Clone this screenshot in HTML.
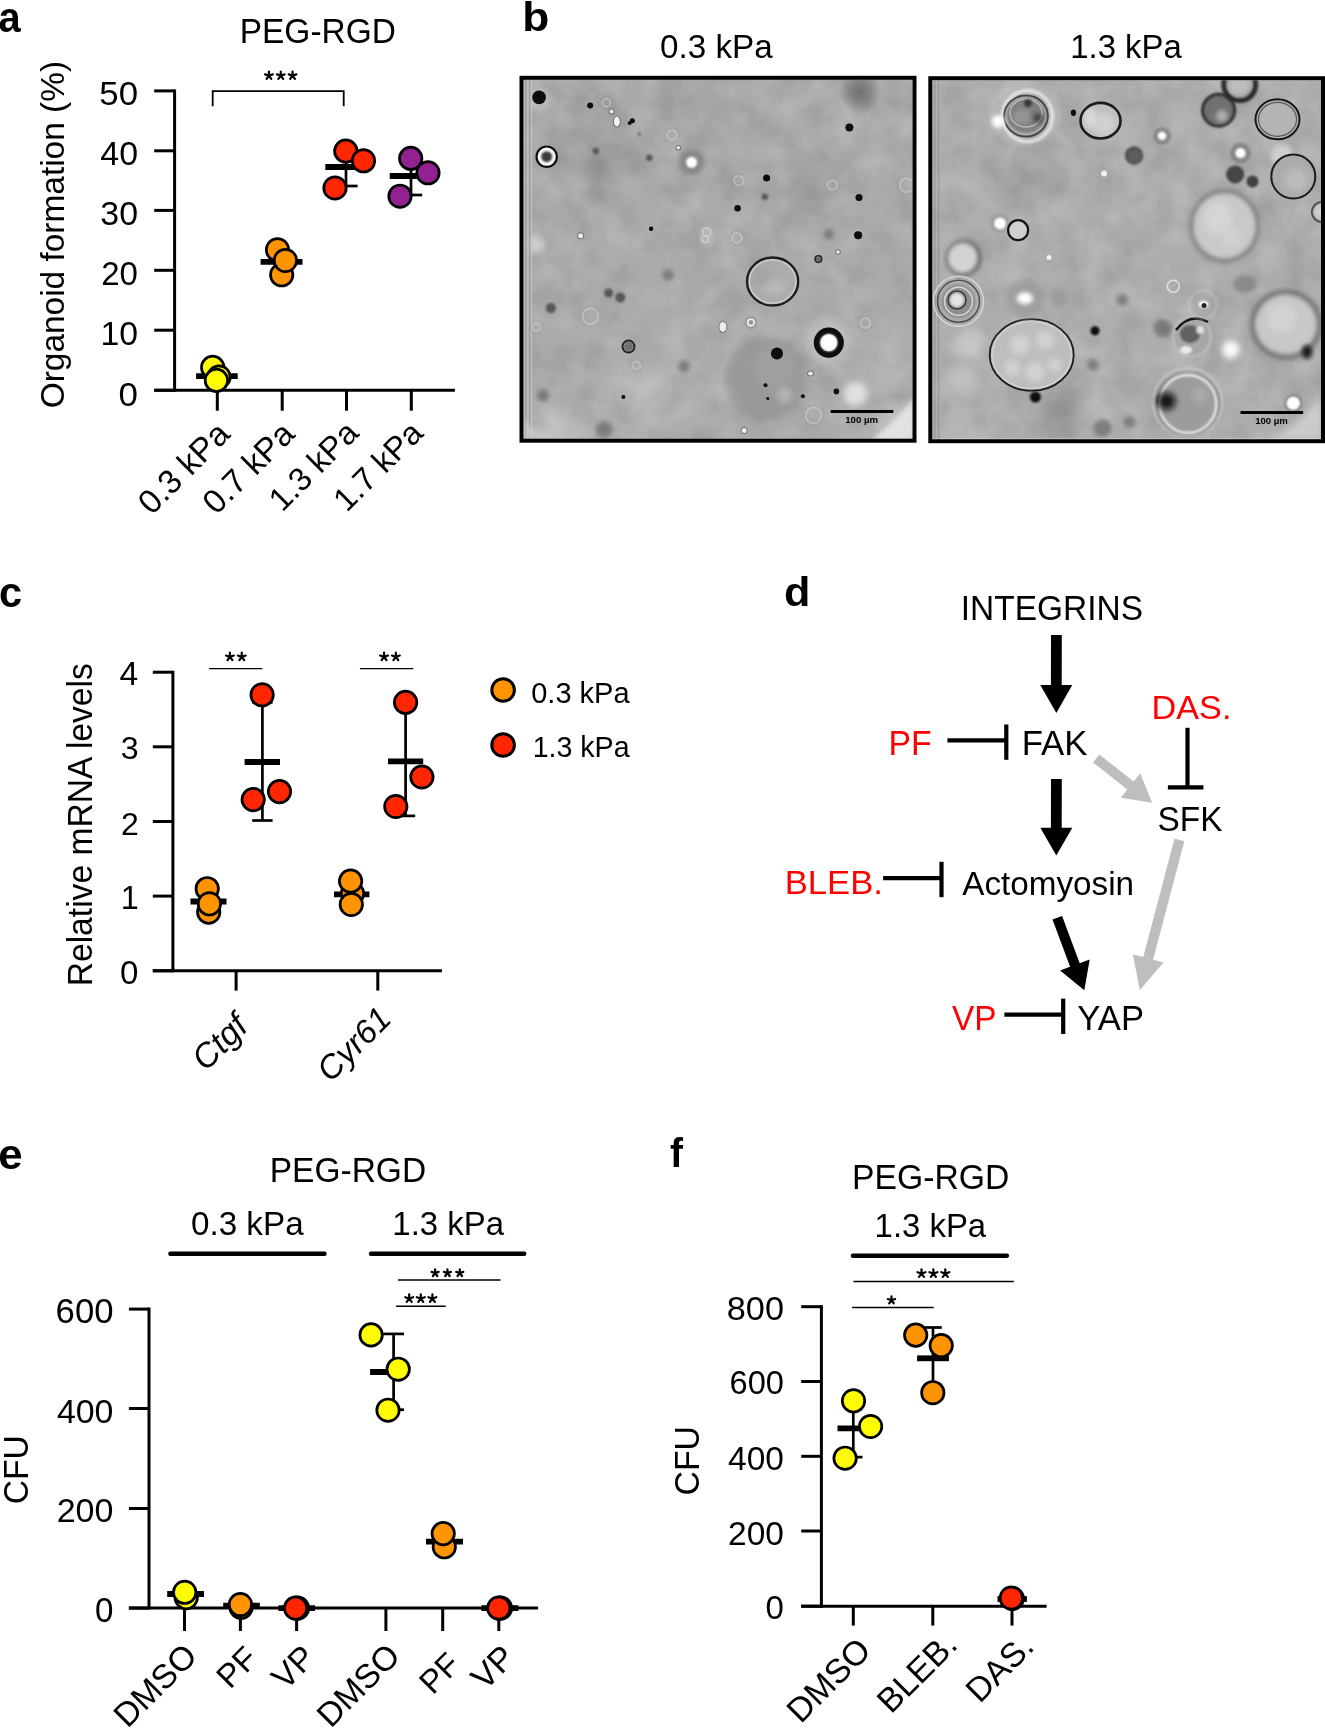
<!DOCTYPE html>
<html><head><meta charset="utf-8"><style>
html,body{margin:0;padding:0;background:#fff;overflow:hidden;}
svg{display:block;will-change:transform;}
text{font-family:"Liberation Sans", sans-serif;}
</style></head><body>
<svg width="1325" height="1728" viewBox="0 0 1325 1728">
<rect width="1325" height="1728" fill="#fff"/>
<line x1="174.60" y1="89.40" x2="174.60" y2="391.80" stroke="#000" stroke-width="3" stroke-linecap="butt"/>
<line x1="154.20" y1="90.90" x2="174.60" y2="90.90" stroke="#000" stroke-width="3" stroke-linecap="butt"/>
<line x1="154.20" y1="150.80" x2="174.60" y2="150.80" stroke="#000" stroke-width="3" stroke-linecap="butt"/>
<line x1="154.20" y1="210.40" x2="174.60" y2="210.40" stroke="#000" stroke-width="3" stroke-linecap="butt"/>
<line x1="154.20" y1="270.30" x2="174.60" y2="270.30" stroke="#000" stroke-width="3" stroke-linecap="butt"/>
<line x1="154.20" y1="330.20" x2="174.60" y2="330.20" stroke="#000" stroke-width="3" stroke-linecap="butt"/>
<line x1="154.20" y1="390.30" x2="174.60" y2="390.30" stroke="#000" stroke-width="3" stroke-linecap="butt"/>
<line x1="154.20" y1="390.30" x2="454.90" y2="390.30" stroke="#000" stroke-width="3" stroke-linecap="butt"/>
<line x1="217.30" y1="390.30" x2="217.30" y2="410.70" stroke="#000" stroke-width="3" stroke-linecap="butt"/>
<line x1="282.20" y1="390.30" x2="282.20" y2="410.70" stroke="#000" stroke-width="3" stroke-linecap="butt"/>
<line x1="346.50" y1="390.30" x2="346.50" y2="410.70" stroke="#000" stroke-width="3" stroke-linecap="butt"/>
<line x1="411.30" y1="390.30" x2="411.30" y2="410.70" stroke="#000" stroke-width="3" stroke-linecap="butt"/>
<path d="M212.7 106.3 V91.2 H343.7 V106.3" fill="none" stroke="#000" stroke-width="1.8"/>
<path d="M268.94 75.64L268.94 71.60M268.94 75.64L272.78 74.39M268.94 75.64L271.31 78.90M268.94 75.64L266.57 78.90M268.94 75.64L265.10 74.39M280.75 75.64L280.75 71.60M280.75 75.64L284.59 74.39M280.75 75.64L283.12 78.90M280.75 75.64L278.38 78.90M280.75 75.64L276.91 74.39M292.56 75.64L292.56 71.60M292.56 75.64L296.40 74.39M292.56 75.64L294.93 78.90M292.56 75.64L290.19 78.90M292.56 75.64L288.72 74.39" stroke="#000" stroke-width="2.2" stroke-linecap="round" fill="none"/>
<line x1="196.10" y1="376.20" x2="237.70" y2="376.20" stroke="#000" stroke-width="5.8" stroke-linecap="butt"/>
<circle cx="212.70" cy="367.40" r="11.2" fill="#FFFB00" stroke="#000" stroke-width="2.7"/>
<circle cx="219.00" cy="377.00" r="11.2" fill="#FFFB00" stroke="#000" stroke-width="2.7"/>
<circle cx="216.40" cy="380.40" r="11.2" fill="#FFFB00" stroke="#000" stroke-width="2.7"/>
<line x1="260.60" y1="261.90" x2="302.50" y2="261.90" stroke="#000" stroke-width="5.8" stroke-linecap="butt"/>
<circle cx="277.50" cy="249.80" r="11.2" fill="#FF9300" stroke="#000" stroke-width="2.7"/>
<circle cx="281.70" cy="274.80" r="11.2" fill="#FF9300" stroke="#000" stroke-width="2.7"/>
<circle cx="285.40" cy="260.50" r="11.2" fill="#FF9300" stroke="#000" stroke-width="2.7"/>
<line x1="346.00" y1="148.00" x2="346.00" y2="186.00" stroke="#000" stroke-width="2.7" stroke-linecap="butt"/>
<line x1="334.40" y1="148.00" x2="357.60" y2="148.00" stroke="#000" stroke-width="2.7" stroke-linecap="butt"/>
<line x1="334.40" y1="186.00" x2="357.60" y2="186.00" stroke="#000" stroke-width="2.7" stroke-linecap="butt"/>
<line x1="325.30" y1="167.00" x2="366.70" y2="167.00" stroke="#000" stroke-width="5.8" stroke-linecap="butt"/>
<circle cx="345.80" cy="151.10" r="11.2" fill="#FF2600" stroke="#000" stroke-width="2.7"/>
<circle cx="363.50" cy="160.80" r="11.2" fill="#FF2600" stroke="#000" stroke-width="2.7"/>
<circle cx="335.00" cy="188.00" r="11.2" fill="#FF2600" stroke="#000" stroke-width="2.7"/>
<line x1="411.00" y1="157.00" x2="411.00" y2="195.00" stroke="#000" stroke-width="2.7" stroke-linecap="butt"/>
<line x1="399.80" y1="157.00" x2="422.20" y2="157.00" stroke="#000" stroke-width="2.7" stroke-linecap="butt"/>
<line x1="399.80" y1="195.00" x2="422.20" y2="195.00" stroke="#000" stroke-width="2.7" stroke-linecap="butt"/>
<line x1="389.70" y1="176.00" x2="431.10" y2="176.00" stroke="#000" stroke-width="5.8" stroke-linecap="butt"/>
<circle cx="410.70" cy="158.40" r="11.2" fill="#942192" stroke="#000" stroke-width="2.7"/>
<circle cx="428.00" cy="172.80" r="11.2" fill="#942192" stroke="#000" stroke-width="2.7"/>
<circle cx="400.00" cy="196.20" r="11.2" fill="#942192" stroke="#000" stroke-width="2.7"/>
<defs>
<filter id="b05" x="-100%" y="-100%" width="300%" height="300%"><feGaussianBlur stdDeviation="0.5"/></filter>
<filter id="b1" x="-100%" y="-100%" width="300%" height="300%"><feGaussianBlur stdDeviation="1.0"/></filter>
<filter id="b2" x="-100%" y="-100%" width="300%" height="300%"><feGaussianBlur stdDeviation="2.0"/></filter>
<filter id="b3" x="-100%" y="-100%" width="300%" height="300%"><feGaussianBlur stdDeviation="3.0"/></filter>
<filter id="b5" x="-100%" y="-100%" width="300%" height="300%"><feGaussianBlur stdDeviation="5.0"/></filter>
<filter id="b8" x="-100%" y="-100%" width="300%" height="300%"><feGaussianBlur stdDeviation="8.0"/></filter>
<filter id="b12" x="-100%" y="-100%" width="300%" height="300%"><feGaussianBlur stdDeviation="12.0"/></filter>
<filter id="b20" x="-100%" y="-100%" width="300%" height="300%"><feGaussianBlur stdDeviation="20.0"/></filter>
<radialGradient id="gd"><stop offset="0" stop-color="#000" stop-opacity="1"/><stop offset="0.5" stop-color="#000" stop-opacity="0.6"/><stop offset="1" stop-color="#000" stop-opacity="0"/></radialGradient>
<radialGradient id="gl"><stop offset="0" stop-color="#fff" stop-opacity="1"/><stop offset="0.5" stop-color="#fff" stop-opacity="0.6"/><stop offset="1" stop-color="#fff" stop-opacity="0"/></radialGradient>
<filter id="nz" color-interpolation-filters="sRGB" x="0" y="0" width="100%" height="100%"><feTurbulence type="fractalNoise" baseFrequency="0.035" numOctaves="3" seed="7" result="t"/><feColorMatrix in="t" type="matrix" values="1 0 0 0 0  1 0 0 0 0  1 0 0 0 0  0 0 0 0 1"/></filter>
<filter id="nz2" color-interpolation-filters="sRGB" x="0" y="0" width="100%" height="100%"><feTurbulence type="fractalNoise" baseFrequency="0.035" numOctaves="3" seed="23" result="t"/><feColorMatrix in="t" type="matrix" values="1 0 0 0 0  1 0 0 0 0  1 0 0 0 0  0 0 0 0 1"/></filter>
<clipPath id="clip1"><rect x="523.5" y="79.8" width="389" height="359"/></clipPath>
<clipPath id="clip2"><rect x="932.3" y="80.2" width="389" height="358.5"/></clipPath>
</defs>
<g clip-path="url(#clip1)">
<rect x="520" y="76" width="396" height="366" fill="#aaaaaa"/>
<rect x="520" y="76" width="396" height="366" filter="url(#nz)" style="mix-blend-mode:overlay" opacity="0.2"/>
<ellipse cx="860.0" cy="92.0" rx="22.0" ry="22.0" fill="url(#gd)" opacity="0.35"/>
<ellipse cx="800.0" cy="190.0" rx="45.0" ry="45.0" fill="url(#gd)" opacity="0.07"/>
<ellipse cx="600.0" cy="150.0" rx="60.0" ry="60.0" fill="url(#gd)" opacity="0.07"/>
<ellipse cx="596.0" cy="170.0" rx="18.0" ry="18.0" fill="url(#gd)" opacity="0.12"/>
<ellipse cx="596.0" cy="195.0" rx="15.0" ry="15.0" fill="url(#gd)" opacity="0.1"/>
<ellipse cx="700.0" cy="120.0" rx="60.0" ry="60.0" fill="url(#gd)" opacity="0.04"/>
<ellipse cx="650.0" cy="390.0" rx="70.0" ry="70.0" fill="url(#gl)" opacity="0.12"/>
<ellipse cx="880.0" cy="360.0" rx="40.0" ry="40.0" fill="url(#gl)" opacity="0.15"/>
<ellipse cx="535.0" cy="245.0" rx="14.0" ry="14.0" fill="url(#gl)" opacity="0.45"/>
<ellipse cx="900.0" cy="425.0" rx="30.0" ry="30.0" fill="url(#gl)" opacity="0.35"/>
<ellipse cx="560.0" cy="432.0" rx="35.0" ry="35.0" fill="url(#gl)" opacity="0.25"/>
<ellipse cx="540.0" cy="100.0" rx="16.0" ry="16.0" fill="url(#gl)" opacity="0.25"/>
<rect x="523" y="80" width="9" height="359" fill="#b4b4b4" opacity="0.5"/>
<line x1="524.0" y1="80" x2="524.0" y2="439" stroke="#cfcfcf" stroke-width="1" stroke-opacity="0.55"/>
<line x1="525.9" y1="80" x2="525.9" y2="439" stroke="#8c8c8c" stroke-width="1" stroke-opacity="0.55"/>
<line x1="527.8" y1="80" x2="527.8" y2="439" stroke="#cfcfcf" stroke-width="1" stroke-opacity="0.55"/>
<line x1="529.7" y1="80" x2="529.7" y2="439" stroke="#8c8c8c" stroke-width="1" stroke-opacity="0.55"/>
<line x1="531.6" y1="80" x2="531.6" y2="439" stroke="#cfcfcf" stroke-width="1" stroke-opacity="0.55"/>
<ellipse cx="766.0" cy="378.0" rx="38.0" ry="38.0" fill="#959595" fill-opacity="0.8" filter="url(#b5)"/>
<ellipse cx="775.0" cy="365.0" rx="22.0" ry="22.0" fill="#a3a3a3" fill-opacity="0.7" filter="url(#b5)"/>
<ellipse cx="785.0" cy="395.0" rx="8.0" ry="8.0" fill="#c4c4c4" fill-opacity="0.6" filter="url(#b3)"/>
<ellipse cx="766.0" cy="378.0" rx="38.0" ry="38.0" fill="none" stroke="#8e8e8e" stroke-width="4" stroke-opacity="0.5" filter="url(#b3)"/>
<ellipse cx="772.4" cy="281.6" rx="26.5" ry="24.8" fill="#acacac" fill-opacity="1.0" filter="url(#b1)"/>
<ellipse cx="775.0" cy="287.0" rx="11.0" ry="7.0" fill="#c2c2c2" fill-opacity="0.6" filter="url(#b3)"/>
<ellipse cx="760.0" cy="275.0" rx="10.0" ry="10.0" fill="#9e9e9e" fill-opacity="0.5" filter="url(#b3)"/>
<ellipse cx="772.6" cy="281.5" rx="25.6" ry="24.0" fill="none" stroke="#1a1a1a" stroke-width="2.3" stroke-opacity="1.0" filter="url(#b05)"/>
<ellipse cx="772.6" cy="281.5" rx="23.2" ry="21.6" fill="none" stroke="#e4e4e4" stroke-width="1.3" stroke-opacity="0.6" filter="url(#b05)"/>
<ellipse cx="828.8" cy="342.6" rx="22.0" ry="22.0" fill="#c8c8c8" fill-opacity="0.6" filter="url(#b5)"/>
<ellipse cx="828.8" cy="342.6" rx="11.8" ry="11.8" fill="none" stroke="#0a0a0a" stroke-width="6.5" stroke-opacity="1.0" filter="url(#b05)"/>
<ellipse cx="828.8" cy="342.6" rx="8.6" ry="8.6" fill="#ffffff" fill-opacity="1.0" filter="url(#b1)"/>
<ellipse cx="539.1" cy="97.4" rx="6.8" ry="6.8" fill="#080808" fill-opacity="1.0" filter="url(#b05)"/>
<ellipse cx="777.0" cy="353.6" rx="6.0" ry="6.0" fill="#080808" fill-opacity="1.0" filter="url(#b05)"/>
<ellipse cx="849.4" cy="127.4" rx="4.0" ry="4.0" fill="#080808" fill-opacity="1.0" filter="url(#b05)"/>
<ellipse cx="766.6" cy="178.1" rx="3.5" ry="3.5" fill="#080808" fill-opacity="1.0" filter="url(#b05)"/>
<ellipse cx="859.0" cy="197.5" rx="3.5" ry="3.5" fill="#080808" fill-opacity="1.0" filter="url(#b05)"/>
<ellipse cx="858.1" cy="235.3" rx="4.0" ry="4.0" fill="#080808" fill-opacity="1.0" filter="url(#b05)"/>
<ellipse cx="737.6" cy="208.2" rx="3.2" ry="3.2" fill="#080808" fill-opacity="1.0" filter="url(#b05)"/>
<ellipse cx="590.2" cy="105.4" rx="3.0" ry="3.0" fill="#080808" fill-opacity="1.0" filter="url(#b05)"/>
<ellipse cx="632.4" cy="120.8" rx="2.5" ry="2.5" fill="#080808" fill-opacity="1.0" filter="url(#b05)"/>
<ellipse cx="629.7" cy="123.0" rx="2.0" ry="2.0" fill="#080808" fill-opacity="1.0" filter="url(#b05)"/>
<ellipse cx="651.1" cy="228.7" rx="2.2" ry="2.2" fill="#080808" fill-opacity="1.0" filter="url(#b05)"/>
<ellipse cx="623.4" cy="397.1" rx="2.0" ry="2.0" fill="#080808" fill-opacity="1.0" filter="url(#b05)"/>
<ellipse cx="802.9" cy="396.3" rx="2.0" ry="2.0" fill="#080808" fill-opacity="1.0" filter="url(#b05)"/>
<ellipse cx="836.4" cy="391.4" rx="2.8" ry="2.8" fill="#080808" fill-opacity="1.0" filter="url(#b05)"/>
<ellipse cx="767.8" cy="398.6" rx="1.5" ry="1.5" fill="#080808" fill-opacity="1.0" filter="url(#b05)"/>
<ellipse cx="765.5" cy="385.3" rx="2.0" ry="2.0" fill="#080808" fill-opacity="1.0" filter="url(#b05)"/>
<ellipse cx="595.7" cy="151.0" rx="3.2" ry="3.2" fill="#4a4a4a" fill-opacity="0.85" filter="url(#b1)"/>
<ellipse cx="649.3" cy="157.8" rx="3.2" ry="3.2" fill="#4a4a4a" fill-opacity="0.85" filter="url(#b1)"/>
<ellipse cx="764.8" cy="196.7" rx="3.2" ry="3.2" fill="#4a4a4a" fill-opacity="0.85" filter="url(#b1)"/>
<ellipse cx="608.6" cy="293.0" rx="4.5" ry="4.5" fill="#4a4a4a" fill-opacity="0.85" filter="url(#b1)"/>
<ellipse cx="620.3" cy="297.5" rx="5.0" ry="5.0" fill="#4a4a4a" fill-opacity="0.85" filter="url(#b1)"/>
<ellipse cx="550.9" cy="308.1" rx="5.0" ry="5.0" fill="#4a4a4a" fill-opacity="0.85" filter="url(#b1)"/>
<ellipse cx="639.5" cy="134.1" rx="1.5" ry="1.5" fill="#4a4a4a" fill-opacity="0.85" filter="url(#b1)"/>
<ellipse cx="828.8" cy="234.1" rx="5.0" ry="5.0" fill="#6a6a6a" fill-opacity="0.7" filter="url(#b2)"/>
<ellipse cx="542.9" cy="395.6" rx="6.0" ry="6.0" fill="#6a6a6a" fill-opacity="0.7" filter="url(#b2)"/>
<ellipse cx="668.2" cy="274.9" rx="6.0" ry="6.0" fill="#6a6a6a" fill-opacity="0.7" filter="url(#b2)"/>
<ellipse cx="684.0" cy="366.2" rx="6.0" ry="6.0" fill="#6a6a6a" fill-opacity="0.7" filter="url(#b2)"/>
<ellipse cx="604.0" cy="429.6" rx="8.0" ry="8.0" fill="#6a6a6a" fill-opacity="0.7" filter="url(#b2)"/>
<ellipse cx="546.7" cy="156.7" rx="11.0" ry="11.0" fill="#ffffff" fill-opacity="1.0" filter="url(#b05)"/>
<ellipse cx="546.7" cy="156.7" rx="10.2" ry="10.2" fill="none" stroke="#111" stroke-width="2.2" stroke-opacity="1.0" filter="url(#b05)"/>
<ellipse cx="546.7" cy="156.7" rx="5.5" ry="5.5" fill="#3a3a3a" fill-opacity="1.0" filter="url(#b1)"/>
<ellipse cx="691.6" cy="162.3" rx="13.0" ry="13.0" fill="#808080" fill-opacity="0.8" filter="url(#b2)"/>
<ellipse cx="691.6" cy="162.3" rx="5.5" ry="5.5" fill="#ffffff" fill-opacity="1.0" filter="url(#b1)"/>
<ellipse cx="738.9" cy="180.7" rx="5.0" ry="5.0" fill="none" stroke="#d8d8d8" stroke-width="1.6" stroke-opacity="0.55" filter="url(#b05)"/>
<ellipse cx="738.9" cy="180.7" rx="6.8" ry="6.8" fill="none" stroke="#808080" stroke-width="1.2" stroke-opacity="0.3" filter="url(#b1)"/>
<ellipse cx="832.2" cy="185.0" rx="5.0" ry="5.0" fill="none" stroke="#d8d8d8" stroke-width="1.6" stroke-opacity="0.55" filter="url(#b05)"/>
<ellipse cx="832.2" cy="185.0" rx="6.8" ry="6.8" fill="none" stroke="#808080" stroke-width="1.2" stroke-opacity="0.3" filter="url(#b1)"/>
<ellipse cx="737.0" cy="237.9" rx="5.0" ry="5.0" fill="none" stroke="#d8d8d8" stroke-width="1.6" stroke-opacity="0.55" filter="url(#b05)"/>
<ellipse cx="737.0" cy="237.9" rx="6.8" ry="6.8" fill="none" stroke="#808080" stroke-width="1.2" stroke-opacity="0.3" filter="url(#b1)"/>
<ellipse cx="865.4" cy="323.1" rx="5.0" ry="5.0" fill="none" stroke="#d8d8d8" stroke-width="1.6" stroke-opacity="0.55" filter="url(#b05)"/>
<ellipse cx="865.4" cy="323.1" rx="6.8" ry="6.8" fill="none" stroke="#808080" stroke-width="1.2" stroke-opacity="0.3" filter="url(#b1)"/>
<ellipse cx="672.0" cy="135.1" rx="5.0" ry="5.0" fill="none" stroke="#d8d8d8" stroke-width="1.6" stroke-opacity="0.55" filter="url(#b05)"/>
<ellipse cx="672.0" cy="135.1" rx="6.8" ry="6.8" fill="none" stroke="#808080" stroke-width="1.2" stroke-opacity="0.3" filter="url(#b1)"/>
<ellipse cx="606.3" cy="102.7" rx="4.0" ry="4.0" fill="none" stroke="#d8d8d8" stroke-width="1.6" stroke-opacity="0.55" filter="url(#b05)"/>
<ellipse cx="606.3" cy="102.7" rx="5.8" ry="5.8" fill="none" stroke="#808080" stroke-width="1.2" stroke-opacity="0.3" filter="url(#b1)"/>
<ellipse cx="536.5" cy="327.0" rx="4.0" ry="4.0" fill="none" stroke="#d8d8d8" stroke-width="1.6" stroke-opacity="0.55" filter="url(#b05)"/>
<ellipse cx="536.5" cy="327.0" rx="5.8" ry="5.8" fill="none" stroke="#808080" stroke-width="1.2" stroke-opacity="0.3" filter="url(#b1)"/>
<ellipse cx="636.5" cy="365.4" rx="4.0" ry="4.0" fill="none" stroke="#d8d8d8" stroke-width="1.6" stroke-opacity="0.55" filter="url(#b05)"/>
<ellipse cx="636.5" cy="365.4" rx="5.8" ry="5.8" fill="none" stroke="#808080" stroke-width="1.2" stroke-opacity="0.3" filter="url(#b1)"/>
<ellipse cx="906.6" cy="185.3" rx="7.0" ry="7.0" fill="none" stroke="#d8d8d8" stroke-width="1.6" stroke-opacity="0.55" filter="url(#b05)"/>
<ellipse cx="906.6" cy="185.3" rx="8.8" ry="8.8" fill="none" stroke="#808080" stroke-width="1.2" stroke-opacity="0.3" filter="url(#b1)"/>
<ellipse cx="813.6" cy="415.3" rx="8.0" ry="8.0" fill="none" stroke="#d8d8d8" stroke-width="1.6" stroke-opacity="0.55" filter="url(#b05)"/>
<ellipse cx="813.6" cy="415.3" rx="9.8" ry="9.8" fill="none" stroke="#808080" stroke-width="1.2" stroke-opacity="0.3" filter="url(#b1)"/>
<ellipse cx="590.5" cy="316.4" rx="8.0" ry="8.0" fill="none" stroke="#d8d8d8" stroke-width="1.6" stroke-opacity="0.55" filter="url(#b05)"/>
<ellipse cx="590.5" cy="316.4" rx="9.8" ry="9.8" fill="none" stroke="#808080" stroke-width="1.2" stroke-opacity="0.3" filter="url(#b1)"/>
<ellipse cx="706.7" cy="232.0" rx="4.0" ry="4.0" fill="none" stroke="#e0e0e0" stroke-width="1.5" stroke-opacity="0.8" filter="url(#b05)"/>
<ellipse cx="705.0" cy="239.0" rx="3.5" ry="3.5" fill="none" stroke="#e0e0e0" stroke-width="1.5" stroke-opacity="0.8" filter="url(#b05)"/>
<ellipse cx="707.0" cy="236.0" rx="7.0" ry="10.0" fill="#c4c4c4" fill-opacity="0.5" filter="url(#b2)"/>
<ellipse cx="616.9" cy="121.5" rx="4.0" ry="6.0" fill="#505050" fill-opacity="0.6" filter="url(#b05)"/>
<ellipse cx="616.9" cy="121.5" rx="3.0" ry="5.0" fill="#eeeeee" fill-opacity="1.0" filter="url(#b05)"/>
<ellipse cx="722.9" cy="326.9" rx="4.5" ry="6.0" fill="#505050" fill-opacity="0.6" filter="url(#b05)"/>
<ellipse cx="722.9" cy="326.9" rx="3.5" ry="5.0" fill="#eeeeee" fill-opacity="1.0" filter="url(#b05)"/>
<ellipse cx="810.5" cy="373.4" rx="3.5" ry="3.0" fill="#505050" fill-opacity="0.6" filter="url(#b05)"/>
<ellipse cx="810.5" cy="373.4" rx="2.5" ry="2.0" fill="#eeeeee" fill-opacity="1.0" filter="url(#b05)"/>
<ellipse cx="611.6" cy="111.4" rx="3.0" ry="3.0" fill="#505050" fill-opacity="0.6" filter="url(#b05)"/>
<ellipse cx="611.6" cy="111.4" rx="2.0" ry="2.0" fill="#eeeeee" fill-opacity="1.0" filter="url(#b05)"/>
<ellipse cx="678.3" cy="147.7" rx="2.8" ry="2.8" fill="#505050" fill-opacity="0.6" filter="url(#b05)"/>
<ellipse cx="678.3" cy="147.7" rx="1.8" ry="1.8" fill="#eeeeee" fill-opacity="1.0" filter="url(#b05)"/>
<ellipse cx="744.2" cy="430.6" rx="3.5" ry="3.5" fill="#505050" fill-opacity="0.6" filter="url(#b05)"/>
<ellipse cx="744.2" cy="430.6" rx="2.5" ry="2.5" fill="#eeeeee" fill-opacity="1.0" filter="url(#b05)"/>
<ellipse cx="838.0" cy="252.0" rx="2.8" ry="2.8" fill="#505050" fill-opacity="0.6" filter="url(#b05)"/>
<ellipse cx="838.0" cy="252.0" rx="1.8" ry="1.8" fill="#eeeeee" fill-opacity="1.0" filter="url(#b05)"/>
<ellipse cx="580.6" cy="235.8" rx="3.5" ry="3.5" fill="#505050" fill-opacity="0.6" filter="url(#b05)"/>
<ellipse cx="580.6" cy="235.8" rx="2.5" ry="2.5" fill="#eeeeee" fill-opacity="1.0" filter="url(#b05)"/>
<ellipse cx="818.4" cy="259.1" rx="3.3" ry="3.3" fill="none" stroke="#222" stroke-width="1.6" stroke-opacity="1" filter="url(#b05)"/>
<ellipse cx="818.4" cy="259.1" rx="2.6" ry="2.6" fill="#6a6a6a" fill-opacity="1" filter="url(#b05)"/>
<ellipse cx="750.9" cy="322.5" rx="6.2" ry="6.2" fill="#8a8a8a" fill-opacity="0.7" filter="url(#b1)"/>
<ellipse cx="750.9" cy="322.5" rx="3.2" ry="3.2" fill="none" stroke="#f4f4f4" stroke-width="1.6" stroke-opacity="1" filter="url(#b05)"/>
<ellipse cx="628.5" cy="346.6" rx="6.0" ry="6.0" fill="none" stroke="#202020" stroke-width="2" stroke-opacity="1.0" filter="url(#b05)"/>
<ellipse cx="628.5" cy="346.6" rx="4.5" ry="4.5" fill="#707070" fill-opacity="1" filter="url(#b05)"/>
<ellipse cx="855.5" cy="394.0" rx="12.0" ry="12.0" fill="#e6e6e6" fill-opacity="0.9" filter="url(#b3)"/>
<path d="M914 398 Q 898 418 872 440 L914 440 Z" fill="#e4e4e4" opacity="0.95" filter="url(#b2)"/>
<path d="M524 420 Q 540 435 560 440 L524 440 Z" fill="#d0d0d0" opacity="0.7" filter="url(#b3)"/>
<rect x="830.7" y="410" width="62.6" height="3" fill="#000"/>
<text x="861.6" y="423.2" font-size="9.6" font-weight="bold" text-anchor="middle" fill="#000">100 µm</text>
</g>
<rect x="521.5" y="77.8" width="393" height="362.9" fill="none" stroke="#000" stroke-width="4"/>
<g clip-path="url(#clip2)">
<rect x="928" y="76" width="397" height="367" fill="#adadad"/>
<rect x="928" y="76" width="397" height="367" filter="url(#nz2)" style="mix-blend-mode:overlay" opacity="0.2"/>
<ellipse cx="1054.3" cy="413.0" rx="35.0" ry="35.0" fill="url(#gd)" opacity="0.15"/>
<ellipse cx="1024.0" cy="169.0" rx="55.0" ry="55.0" fill="url(#gd)" opacity="0.08"/>
<ellipse cx="1024.0" cy="169.0" rx="50.0" ry="50.0" fill="none" stroke="#c0c0c0" stroke-width="3" stroke-opacity="0.5" filter="url(#b3)"/>
<ellipse cx="1031.7" cy="160.0" rx="18.0" ry="18.0" fill="none" stroke="#999" stroke-width="2" stroke-opacity="0.5" filter="url(#b2)"/>
<ellipse cx="969.8" cy="342.0" rx="15.0" ry="15.0" fill="#d0d0d0" fill-opacity="0.7" filter="url(#b5)"/>
<ellipse cx="963.7" cy="379.8" rx="15.0" ry="15.0" fill="#c8c8c8" fill-opacity="0.6" filter="url(#b5)"/>
<ellipse cx="960.0" cy="420.0" rx="15.0" ry="15.0" fill="#c4c4c4" fill-opacity="0.5" filter="url(#b5)"/>
<rect x="932" y="80" width="9" height="359" fill="#959595" opacity="0.35"/>
<line x1="933.0" y1="80" x2="933.0" y2="439" stroke="#cccccc" stroke-width="1" stroke-opacity="0.45"/>
<line x1="934.9" y1="80" x2="934.9" y2="439" stroke="#939393" stroke-width="1" stroke-opacity="0.45"/>
<line x1="936.8" y1="80" x2="936.8" y2="439" stroke="#cccccc" stroke-width="1" stroke-opacity="0.45"/>
<line x1="938.7" y1="80" x2="938.7" y2="439" stroke="#939393" stroke-width="1" stroke-opacity="0.45"/>
<line x1="940.6" y1="80" x2="940.6" y2="439" stroke="#cccccc" stroke-width="1" stroke-opacity="0.45"/>
<ellipse cx="1025.0" cy="113.3" rx="36.0" ry="31.7" fill="#bdbdbd" fill-opacity="0.45" filter="url(#b3)"/>
<ellipse cx="1025.0" cy="113.3" rx="33.0" ry="29.5" fill="none" stroke="#c8c8c8" stroke-width="2" stroke-opacity="0.5" filter="url(#b2)"/>
<ellipse cx="1027.5" cy="116.2" rx="25.0" ry="25.5" fill="none" stroke="#ececec" stroke-width="3.2" stroke-opacity="0.85" filter="url(#b1)"/>
<ellipse cx="1026.0" cy="116.0" rx="21.8" ry="20.5" fill="none" stroke="#2a2a2a" stroke-width="2.0" stroke-opacity="0.8" filter="url(#b05)"/>
<ellipse cx="1026.0" cy="115.5" rx="19.5" ry="17.5" fill="#808080" fill-opacity="1.0" filter="url(#b1)"/>
<ellipse cx="1026.0" cy="113.0" rx="16.0" ry="14.0" fill="none" stroke="#d8d8d8" stroke-width="1.5" stroke-opacity="0.6" filter="url(#b05)"/>
<ellipse cx="1022.0" cy="117.0" rx="9.0" ry="7.0" fill="#9a9a9a" fill-opacity="0.8" filter="url(#b2)"/>
<ellipse cx="1038.0" cy="118.0" rx="5.0" ry="5.0" fill="#2e2e2e" fill-opacity="0.7" filter="url(#b2)"/>
<ellipse cx="1028.0" cy="103.0" rx="4.0" ry="4.0" fill="#1e1e1e" fill-opacity="0.7" filter="url(#b1)"/>
<ellipse cx="998.1" cy="121.3" rx="6.5" ry="6.5" fill="#ffffff" fill-opacity="1.0" filter="url(#b2)"/>
<ellipse cx="1100.5" cy="120.7" rx="21.0" ry="18.7" fill="#c0c0c0" fill-opacity="1.0" filter="url(#b05)"/>
<ellipse cx="1104.0" cy="124.0" rx="11.0" ry="11.0" fill="#d4d4d4" fill-opacity="0.8" filter="url(#b3)"/>
<ellipse cx="1090.0" cy="118.0" rx="6.0" ry="10.0" fill="#e6e6e6" fill-opacity="0.6" filter="url(#b2)"/>
<ellipse cx="1100.5" cy="120.7" rx="20.0" ry="17.8" fill="none" stroke="#1a1a1a" stroke-width="2.6" stroke-opacity="1.0" filter="url(#b05)"/>
<ellipse cx="1073.4" cy="112.8" rx="2.6" ry="3.2" fill="#111" fill-opacity="1" filter="url(#b05)"/>
<ellipse cx="1000.0" cy="223.4" rx="9.0" ry="9.0" fill="#8a8a8a" fill-opacity="0.7" filter="url(#b2)"/>
<ellipse cx="1000.0" cy="223.4" rx="6.0" ry="6.0" fill="#ffffff" fill-opacity="1" filter="url(#b1)"/>
<ellipse cx="1018.1" cy="230.2" rx="10.0" ry="10.0" fill="#d0d0d0" fill-opacity="1" filter="url(#b05)"/>
<ellipse cx="1018.1" cy="230.2" rx="10.0" ry="10.0" fill="none" stroke="#141414" stroke-width="2.2" stroke-opacity="1" filter="url(#b05)"/>
<ellipse cx="960.5" cy="257.0" rx="17.0" ry="17.0" fill="#d6d6d6" fill-opacity="0.9" filter="url(#b2)"/>
<ellipse cx="963.0" cy="258.0" rx="17.0" ry="17.0" fill="none" stroke="#303030" stroke-width="3" stroke-opacity="0.7" filter="url(#b2)"/>
<ellipse cx="1239.7" cy="84.6" rx="16.0" ry="16.0" fill="none" stroke="#1e1e1e" stroke-width="5" stroke-opacity="0.9" filter="url(#b1)"/>
<ellipse cx="1239.7" cy="84.6" rx="10.0" ry="10.0" fill="#c8c8c8" fill-opacity="0.7" filter="url(#b2)"/>
<ellipse cx="1218.6" cy="110.2" rx="16.0" ry="16.0" fill="#6a6a6a" fill-opacity="0.9" filter="url(#b1)"/>
<ellipse cx="1218.6" cy="110.2" rx="16.0" ry="16.0" fill="none" stroke="#222" stroke-width="3" stroke-opacity="0.9" filter="url(#b1)"/>
<ellipse cx="1222.0" cy="116.0" rx="6.0" ry="6.0" fill="#bcbcbc" fill-opacity="0.8" filter="url(#b2)"/>
<ellipse cx="1277.5" cy="119.3" rx="22.0" ry="20.0" fill="#b4b4b4" fill-opacity="1" filter="url(#b05)"/>
<ellipse cx="1277.5" cy="119.3" rx="22.0" ry="20.0" fill="none" stroke="#151515" stroke-width="2" stroke-opacity="1" filter="url(#b05)"/>
<ellipse cx="1277.5" cy="119.3" rx="19.0" ry="17.0" fill="none" stroke="#303030" stroke-width="1.2" stroke-opacity="0.7" filter="url(#b05)"/>
<ellipse cx="1162.0" cy="135.9" rx="9.0" ry="9.0" fill="#7a7a7a" fill-opacity="0.7" filter="url(#b1)"/>
<ellipse cx="1162.0" cy="135.9" rx="4.2" ry="4.2" fill="#ffffff" fill-opacity="1" filter="url(#b1)"/>
<ellipse cx="1240.5" cy="153.2" rx="10.5" ry="10.5" fill="#7a7a7a" fill-opacity="0.7" filter="url(#b1)"/>
<ellipse cx="1240.5" cy="153.2" rx="5.1" ry="5.1" fill="#ffffff" fill-opacity="1" filter="url(#b1)"/>
<ellipse cx="1134.0" cy="155.5" rx="9.0" ry="9.0" fill="#3a3a3a" fill-opacity="0.9" filter="url(#b1)"/>
<ellipse cx="1235.2" cy="174.4" rx="9.0" ry="9.0" fill="#3a3a3a" fill-opacity="0.9" filter="url(#b1)"/>
<ellipse cx="1252.5" cy="181.5" rx="6.0" ry="6.0" fill="#333" fill-opacity="0.9" filter="url(#b1)"/>
<ellipse cx="1282.0" cy="155.5" rx="11.0" ry="11.0" fill="#d2d2d2" fill-opacity="0.9" filter="url(#b2)"/>
<ellipse cx="1293.3" cy="176.6" rx="22.0" ry="22.0" fill="#ababab" fill-opacity="1" filter="url(#b05)"/>
<ellipse cx="1296.0" cy="180.0" rx="12.0" ry="12.0" fill="#c0c0c0" fill-opacity="0.7" filter="url(#b3)"/>
<ellipse cx="1293.3" cy="176.6" rx="22.0" ry="22.0" fill="none" stroke="#1a1a1a" stroke-width="2" stroke-opacity="1" filter="url(#b05)"/>
<ellipse cx="1322.0" cy="212.0" rx="10.0" ry="10.0" fill="none" stroke="#222" stroke-width="2" stroke-opacity="0.8" filter="url(#b05)"/>
<ellipse cx="1322.0" cy="212.0" rx="8.0" ry="8.0" fill="#d8d8d8" fill-opacity="0.8" filter="url(#b2)"/>
<ellipse cx="1224.5" cy="225.9" rx="46.0" ry="47.0" fill="url(#gd)" opacity="0.12"/>
<ellipse cx="1224.5" cy="225.9" rx="33.0" ry="34.5" fill="none" stroke="#7e7e7e" stroke-width="5" stroke-opacity="0.8" filter="url(#b2)"/>
<ellipse cx="1224.5" cy="225.9" rx="30.5" ry="32.0" fill="#c9c9c9" fill-opacity="1" filter="url(#b2)"/>
<ellipse cx="1218.0" cy="218.0" rx="14.0" ry="16.0" fill="#d8d8d8" fill-opacity="0.8" filter="url(#b3)"/>
<ellipse cx="1232.0" cy="238.0" rx="10.0" ry="10.0" fill="#d4d4d4" fill-opacity="0.7" filter="url(#b3)"/>
<ellipse cx="1031.7" cy="354.9" rx="42.0" ry="35.8" fill="#bdbdbd" fill-opacity="1" filter="url(#b05)"/>
<ellipse cx="1020.0" cy="345.0" rx="10.0" ry="10.0" fill="#d8d8d8" fill-opacity="0.8" filter="url(#b3)"/>
<ellipse cx="1045.0" cy="340.0" rx="9.0" ry="9.0" fill="#d8d8d8" fill-opacity="0.8" filter="url(#b3)"/>
<ellipse cx="1035.0" cy="372.0" rx="10.0" ry="10.0" fill="#d8d8d8" fill-opacity="0.8" filter="url(#b3)"/>
<ellipse cx="1055.0" cy="365.0" rx="7.0" ry="7.0" fill="#d8d8d8" fill-opacity="0.8" filter="url(#b3)"/>
<ellipse cx="1012.0" cy="368.0" rx="8.0" ry="8.0" fill="#d8d8d8" fill-opacity="0.8" filter="url(#b3)"/>
<ellipse cx="1031.7" cy="354.9" rx="42.0" ry="35.8" fill="none" stroke="#1c1c1c" stroke-width="1.8" stroke-opacity="1" filter="url(#b05)"/>
<ellipse cx="1031.7" cy="354.9" rx="39.5" ry="33.5" fill="none" stroke="#dedede" stroke-width="1.5" stroke-opacity="0.6" filter="url(#b05)"/>
<ellipse cx="958.5" cy="301.3" rx="25.0" ry="25.0" fill="none" stroke="#e0e0e0" stroke-width="1.5" stroke-opacity="0.8" filter="url(#b05)"/>
<ellipse cx="958.5" cy="301.3" rx="21.0" ry="21.0" fill="none" stroke="#3a3a3a" stroke-width="1.5" stroke-opacity="0.8" filter="url(#b05)"/>
<ellipse cx="958.5" cy="301.3" rx="17.0" ry="17.0" fill="#8c8c8c" fill-opacity="0.9" filter="url(#b1)"/>
<ellipse cx="958.5" cy="301.3" rx="14.0" ry="14.0" fill="none" stroke="#e8e8e8" stroke-width="1.5" stroke-opacity="0.8" filter="url(#b05)"/>
<ellipse cx="957.0" cy="300.0" rx="9.0" ry="9.0" fill="none" stroke="#2a2a2a" stroke-width="1.5" stroke-opacity="0.9" filter="url(#b05)"/>
<ellipse cx="957.0" cy="300.0" rx="7.0" ry="7.0" fill="#e4e4e4" fill-opacity="1" filter="url(#b1)"/>
<ellipse cx="1024.9" cy="298.3" rx="19.6" ry="19.6" fill="#9a9a9a" fill-opacity="0.8" filter="url(#b3)"/>
<ellipse cx="1024.9" cy="298.3" rx="8.0" ry="6.0" fill="#ffffff" fill-opacity="1" filter="url(#b2)"/>
<ellipse cx="1058.8" cy="298.3" rx="10.0" ry="10.0" fill="#8e8e8e" fill-opacity="0.6" filter="url(#b3)"/>
<ellipse cx="1095.0" cy="330.7" rx="4.5" ry="4.5" fill="#0c0c0c" fill-opacity="1" filter="url(#b1)"/>
<ellipse cx="1035.4" cy="397.1" rx="5.5" ry="5.5" fill="#0c0c0c" fill-opacity="1" filter="url(#b1)"/>
<ellipse cx="1165.8" cy="400.9" rx="9.0" ry="9.0" fill="#0c0c0c" fill-opacity="1" filter="url(#b1)"/>
<ellipse cx="1092.8" cy="364.7" rx="6.0" ry="6.0" fill="#6a6a6a" fill-opacity="0.7" filter="url(#b2)"/>
<ellipse cx="1102.6" cy="428.1" rx="9.0" ry="9.0" fill="#6a6a6a" fill-opacity="0.7" filter="url(#b2)"/>
<ellipse cx="1122.2" cy="299.8" rx="6.0" ry="6.0" fill="#6a6a6a" fill-opacity="0.7" filter="url(#b2)"/>
<ellipse cx="1162.7" cy="328.5" rx="9.0" ry="9.0" fill="#6a6a6a" fill-opacity="0.7" filter="url(#b2)"/>
<ellipse cx="1129.5" cy="422.0" rx="6.0" ry="6.0" fill="#6a6a6a" fill-opacity="0.7" filter="url(#b2)"/>
<ellipse cx="1134.7" cy="155.9" rx="8.0" ry="8.0" fill="#6a6a6a" fill-opacity="0.7" filter="url(#b2)"/>
<ellipse cx="1286.0" cy="324.5" rx="48.0" ry="48.0" fill="url(#gd)" opacity="0.12"/>
<ellipse cx="1286.0" cy="324.5" rx="33.5" ry="32.5" fill="none" stroke="#747474" stroke-width="6" stroke-opacity="0.85" filter="url(#b2)"/>
<ellipse cx="1286.0" cy="324.5" rx="30.0" ry="29.0" fill="#c8c8c8" fill-opacity="1" filter="url(#b2)"/>
<ellipse cx="1282.0" cy="318.0" rx="14.0" ry="14.0" fill="#d6d6d6" fill-opacity="0.8" filter="url(#b3)"/>
<ellipse cx="1307.0" cy="352.0" rx="5.0" ry="7.0" fill="#0a0a0a" fill-opacity="0.9" filter="url(#b2)"/>
<ellipse cx="1187.6" cy="402.0" rx="34.6" ry="34.0" fill="none" stroke="#d6d6d6" stroke-width="2" stroke-opacity="0.6" filter="url(#b1)"/>
<ellipse cx="1188.0" cy="404.0" rx="28.5" ry="29.0" fill="#9c9c9c" fill-opacity="1" filter="url(#b1)"/>
<ellipse cx="1188.0" cy="404.0" rx="28.5" ry="29.0" fill="none" stroke="#eeeeee" stroke-width="3" stroke-opacity="0.85" filter="url(#b1)"/>
<ellipse cx="1188.0" cy="404.0" rx="31.0" ry="31.5" fill="none" stroke="#3a3a3a" stroke-width="1.2" stroke-opacity="0.5" filter="url(#b1)"/>
<ellipse cx="1166.6" cy="401.2" rx="9.0" ry="9.0" fill="#0a0a0a" fill-opacity="0.95" filter="url(#b3)"/>
<ellipse cx="1200.0" cy="395.0" rx="8.0" ry="8.0" fill="#b4b4b4" fill-opacity="0.6" filter="url(#b3)"/>
<ellipse cx="1192.1" cy="336.5" rx="19.0" ry="20.0" fill="#a8a8a8" fill-opacity="1" filter="url(#b1)"/>
<ellipse cx="1192.1" cy="336.5" rx="19.0" ry="20.0" fill="none" stroke="#cfcfcf" stroke-width="2" stroke-opacity="0.6" filter="url(#b1)"/>
<ellipse cx="1190.0" cy="334.0" rx="10.0" ry="9.0" fill="#505050" fill-opacity="0.8" filter="url(#b1)"/>
<ellipse cx="1186.0" cy="350.0" rx="6.0" ry="4.0" fill="#f2f2f2" fill-opacity="0.9" filter="url(#b1)"/>
<ellipse cx="1200.0" cy="330.0" rx="4.0" ry="4.0" fill="#eeeeee" fill-opacity="0.8" filter="url(#b1)"/>
<path d="M1176 330 Q 1190 312 1208 322" fill="none" stroke="#151515" stroke-width="2.5" filter="url(#b05)"/>
<ellipse cx="1202.7" cy="304.9" rx="14.0" ry="14.0" fill="none" stroke="#d0d0d0" stroke-width="1.5" stroke-opacity="0.6" filter="url(#b1)"/>
<ellipse cx="1203.5" cy="304.5" rx="5.0" ry="3.5" fill="#ffffff" fill-opacity="1" filter="url(#b1)"/>
<ellipse cx="1204.0" cy="305.5" rx="2.5" ry="2.5" fill="#222" fill-opacity="1" filter="url(#b05)"/>
<ellipse cx="1244.8" cy="283.8" rx="12.0" ry="9.0" fill="#7c7c7c" fill-opacity="0.7" filter="url(#b2)"/>
<ellipse cx="1230.7" cy="349.6" rx="9.0" ry="9.0" fill="#ffffff" fill-opacity="0.95" filter="url(#b3)"/>
<ellipse cx="1293.3" cy="403.2" rx="7.0" ry="7.0" fill="#ffffff" fill-opacity="1" filter="url(#b1)"/>
<ellipse cx="1293.3" cy="403.2" rx="8.0" ry="8.0" fill="none" stroke="#555" stroke-width="1.5" stroke-opacity="0.7" filter="url(#b1)"/>
<ellipse cx="1173.3" cy="286.2" rx="6.0" ry="6.0" fill="none" stroke="#eee" stroke-width="1.5" stroke-opacity="0.8" filter="url(#b05)"/>
<ellipse cx="1049.0" cy="257.4" rx="2.5" ry="2.5" fill="#f0f0f0" fill-opacity="1" filter="url(#b05)"/>
<ellipse cx="1104.1" cy="173.6" rx="3.0" ry="3.0" fill="#f0f0f0" fill-opacity="1" filter="url(#b05)"/>
<path d="M1321 395 L1321 439 L1270 439 Q 1300 425 1321 395 Z" fill="#d8d8d8" opacity="0.7" filter="url(#b3)"/>
<rect x="1240.5" y="411" width="62.6" height="3" fill="#000"/>
<text x="1271.5" y="423.8" font-size="9.6" font-weight="bold" text-anchor="middle" fill="#000">100 µm</text>
</g>
<rect x="930.3" y="78.2" width="392.7" height="363" fill="none" stroke="#000" stroke-width="4"/>
<line x1="172.90" y1="670.70" x2="172.90" y2="972.30" stroke="#000" stroke-width="3" stroke-linecap="butt"/>
<line x1="152.80" y1="672.20" x2="172.90" y2="672.20" stroke="#000" stroke-width="3" stroke-linecap="butt"/>
<line x1="152.80" y1="746.80" x2="172.90" y2="746.80" stroke="#000" stroke-width="3" stroke-linecap="butt"/>
<line x1="152.80" y1="821.50" x2="172.90" y2="821.50" stroke="#000" stroke-width="3" stroke-linecap="butt"/>
<line x1="152.80" y1="896.10" x2="172.90" y2="896.10" stroke="#000" stroke-width="3" stroke-linecap="butt"/>
<line x1="152.80" y1="970.80" x2="172.90" y2="970.80" stroke="#000" stroke-width="3" stroke-linecap="butt"/>
<line x1="152.80" y1="970.80" x2="442.00" y2="970.80" stroke="#000" stroke-width="3" stroke-linecap="butt"/>
<line x1="236.10" y1="970.80" x2="236.10" y2="990.60" stroke="#000" stroke-width="3" stroke-linecap="butt"/>
<line x1="377.80" y1="970.80" x2="377.80" y2="990.60" stroke="#000" stroke-width="3" stroke-linecap="butt"/>
<line x1="209.10" y1="668.60" x2="262.30" y2="668.60" stroke="#000" stroke-width="1.4" stroke-linecap="butt"/>
<path d="M229.94 656.85L229.94 652.70M229.94 656.85L233.89 655.56M229.94 656.85L232.38 660.20M229.94 656.85L227.51 660.20M229.94 656.85L226.00 655.56M241.76 656.85L241.76 652.70M241.76 656.85L245.70 655.56M241.76 656.85L244.19 660.20M241.76 656.85L239.32 660.20M241.76 656.85L237.81 655.56" stroke="#000" stroke-width="2.2" stroke-linecap="round" fill="none"/>
<line x1="359.90" y1="668.60" x2="413.30" y2="668.60" stroke="#000" stroke-width="1.4" stroke-linecap="butt"/>
<path d="M384.04 656.85L384.04 652.70M384.04 656.85L387.99 655.56M384.04 656.85L386.48 660.20M384.04 656.85L381.61 660.20M384.04 656.85L380.10 655.56M395.86 656.85L395.86 652.70M395.86 656.85L399.80 655.56M395.86 656.85L398.29 660.20M395.86 656.85L393.42 660.20M395.86 656.85L391.91 655.56" stroke="#000" stroke-width="2.2" stroke-linecap="round" fill="none"/>
<line x1="190.50" y1="901.50" x2="226.50" y2="901.50" stroke="#000" stroke-width="5.8" stroke-linecap="butt"/>
<circle cx="207.20" cy="888.70" r="11.2" fill="#FF9300" stroke="#000" stroke-width="2.7"/>
<circle cx="208.70" cy="912.10" r="11.2" fill="#FF9300" stroke="#000" stroke-width="2.7"/>
<circle cx="209.40" cy="903.80" r="11.2" fill="#FF9300" stroke="#000" stroke-width="2.7"/>
<line x1="262.40" y1="702.40" x2="262.40" y2="820.50" stroke="#000" stroke-width="2.7" stroke-linecap="butt"/>
<line x1="252.20" y1="702.40" x2="272.60" y2="702.40" stroke="#000" stroke-width="2.7" stroke-linecap="butt"/>
<line x1="252.20" y1="820.50" x2="272.60" y2="820.50" stroke="#000" stroke-width="2.7" stroke-linecap="butt"/>
<line x1="244.60" y1="762.00" x2="280.00" y2="762.00" stroke="#000" stroke-width="5.8" stroke-linecap="butt"/>
<circle cx="262.10" cy="694.80" r="11.2" fill="#FF2600" stroke="#000" stroke-width="2.7"/>
<circle cx="253.20" cy="799.60" r="11.2" fill="#FF2600" stroke="#000" stroke-width="2.7"/>
<circle cx="279.50" cy="791.60" r="11.2" fill="#FF2600" stroke="#000" stroke-width="2.7"/>
<line x1="334.00" y1="894.40" x2="369.40" y2="894.40" stroke="#000" stroke-width="5.8" stroke-linecap="butt"/>
<circle cx="352.50" cy="893.50" r="11.2" fill="#FF9300" stroke="#000" stroke-width="2.7"/>
<circle cx="351.30" cy="904.50" r="11.2" fill="#FF9300" stroke="#000" stroke-width="2.7"/>
<circle cx="350.60" cy="881.10" r="11.2" fill="#FF9300" stroke="#000" stroke-width="2.7"/>
<line x1="405.60" y1="709.30" x2="405.60" y2="815.90" stroke="#000" stroke-width="2.7" stroke-linecap="butt"/>
<line x1="396.00" y1="709.30" x2="415.20" y2="709.30" stroke="#000" stroke-width="2.7" stroke-linecap="butt"/>
<line x1="396.00" y1="815.90" x2="415.20" y2="815.90" stroke="#000" stroke-width="2.7" stroke-linecap="butt"/>
<line x1="388.00" y1="761.40" x2="423.20" y2="761.40" stroke="#000" stroke-width="5.8" stroke-linecap="butt"/>
<circle cx="405.60" cy="702.40" r="11.2" fill="#FF2600" stroke="#000" stroke-width="2.7"/>
<circle cx="421.90" cy="777.00" r="11.2" fill="#FF2600" stroke="#000" stroke-width="2.7"/>
<circle cx="395.80" cy="806.50" r="11.2" fill="#FF2600" stroke="#000" stroke-width="2.7"/>
<circle cx="503.10" cy="690.00" r="11.3" fill="#FF9300" stroke="#000" stroke-width="3"/>
<circle cx="503.10" cy="745.00" r="11.3" fill="#FF2600" stroke="#000" stroke-width="3"/>
<polygon points="1051.0,635.0 1050.9,685.1 1040.3,685.1 1056.3,712.9 1072.3,685.1 1061.7,685.1 1061.8,635.0" fill="#000"/>
<polygon points="1051.0,779.0 1050.9,827.8 1040.3,827.8 1056.3,855.6 1072.3,827.8 1061.7,827.8 1061.8,779.0" fill="#000"/>
<polygon points="1052.5,919.5 1070.1,966.8 1060.1,970.5 1084.3,990.3 1089.7,959.5 1079.7,963.2 1062.1,915.9" fill="#000"/>
<polygon points="1093.1,762.4 1127.3,789.5 1120.7,797.8 1152.2,802.7 1140.2,773.2 1133.6,781.6 1099.3,754.4" fill="#BEBEBE"/>
<polygon points="1174.5,838.6 1143.3,957.1 1132.9,954.4 1139.8,990.3 1163.5,962.4 1153.1,959.7 1184.3,841.2" fill="#BEBEBE"/>
<line x1="947.40" y1="740.30" x2="1007.70" y2="740.30" stroke="#000" stroke-width="4.2" stroke-linecap="butt"/>
<line x1="1006.30" y1="724.50" x2="1006.30" y2="759.80" stroke="#000" stroke-width="4.2" stroke-linecap="butt"/>
<line x1="1187.50" y1="727.80" x2="1187.50" y2="787.30" stroke="#000" stroke-width="4.2" stroke-linecap="butt"/>
<line x1="1167.90" y1="787.30" x2="1203.40" y2="787.30" stroke="#000" stroke-width="4.2" stroke-linecap="butt"/>
<line x1="883.10" y1="878.10" x2="942.50" y2="878.10" stroke="#000" stroke-width="4.2" stroke-linecap="butt"/>
<line x1="941.50" y1="861.80" x2="941.50" y2="897.20" stroke="#000" stroke-width="4.2" stroke-linecap="butt"/>
<line x1="1004.40" y1="1014.60" x2="1063.70" y2="1014.60" stroke="#000" stroke-width="4.2" stroke-linecap="butt"/>
<line x1="1063.20" y1="998.60" x2="1063.20" y2="1034.00" stroke="#000" stroke-width="4.2" stroke-linecap="butt"/>
<line x1="170.40" y1="1253.80" x2="324.50" y2="1253.80" stroke="#000" stroke-width="4.4" stroke-linecap="round"/>
<line x1="371.00" y1="1253.80" x2="524.20" y2="1253.80" stroke="#000" stroke-width="4.4" stroke-linecap="round"/>
<line x1="398.10" y1="1279.90" x2="500.60" y2="1279.90" stroke="#000" stroke-width="1.5" stroke-linecap="butt"/>
<path d="M435.12 1273.00L435.12 1269.30M435.12 1273.00L438.64 1271.86M435.12 1273.00L437.30 1276.00M435.12 1273.00L432.95 1276.00M435.12 1273.00L431.60 1271.86M447.45 1273.00L447.45 1269.30M447.45 1273.00L450.97 1271.86M447.45 1273.00L449.63 1276.00M447.45 1273.00L445.27 1276.00M447.45 1273.00L443.93 1271.86M459.78 1273.00L459.78 1269.30M459.78 1273.00L463.30 1271.86M459.78 1273.00L461.95 1276.00M459.78 1273.00L457.60 1276.00M459.78 1273.00L456.26 1271.86" stroke="#000" stroke-width="2.2" stroke-linecap="round" fill="none"/>
<line x1="396.00" y1="1306.20" x2="445.70" y2="1306.20" stroke="#000" stroke-width="1.5" stroke-linecap="butt"/>
<path d="M409.20 1298.50L409.20 1294.30M409.20 1298.50L413.19 1297.20M409.20 1298.50L411.66 1301.90M409.20 1298.50L406.73 1301.90M409.20 1298.50L405.20 1297.20M420.80 1298.50L420.80 1294.30M420.80 1298.50L424.80 1297.20M420.80 1298.50L423.27 1301.90M420.80 1298.50L418.33 1301.90M420.80 1298.50L416.80 1297.20M432.40 1298.50L432.40 1294.30M432.40 1298.50L436.40 1297.20M432.40 1298.50L434.87 1301.90M432.40 1298.50L429.94 1301.90M432.40 1298.50L428.41 1297.20" stroke="#000" stroke-width="2.2" stroke-linecap="round" fill="none"/>
<line x1="149.00" y1="1307.60" x2="149.00" y2="1609.60" stroke="#000" stroke-width="3" stroke-linecap="butt"/>
<line x1="128.90" y1="1309.10" x2="149.00" y2="1309.10" stroke="#000" stroke-width="3" stroke-linecap="butt"/>
<line x1="128.90" y1="1408.50" x2="149.00" y2="1408.50" stroke="#000" stroke-width="3" stroke-linecap="butt"/>
<line x1="128.90" y1="1508.50" x2="149.00" y2="1508.50" stroke="#000" stroke-width="3" stroke-linecap="butt"/>
<line x1="128.90" y1="1608.10" x2="149.00" y2="1608.10" stroke="#000" stroke-width="3" stroke-linecap="butt"/>
<line x1="128.90" y1="1608.10" x2="538.10" y2="1608.10" stroke="#000" stroke-width="3" stroke-linecap="butt"/>
<line x1="184.50" y1="1608.10" x2="184.50" y2="1631.00" stroke="#000" stroke-width="3" stroke-linecap="butt"/>
<line x1="240.40" y1="1608.10" x2="240.40" y2="1631.00" stroke="#000" stroke-width="3" stroke-linecap="butt"/>
<line x1="296.60" y1="1608.10" x2="296.60" y2="1631.00" stroke="#000" stroke-width="3" stroke-linecap="butt"/>
<line x1="385.90" y1="1608.10" x2="385.90" y2="1631.00" stroke="#000" stroke-width="3" stroke-linecap="butt"/>
<line x1="442.70" y1="1608.10" x2="442.70" y2="1631.00" stroke="#000" stroke-width="3" stroke-linecap="butt"/>
<line x1="498.80" y1="1608.10" x2="498.80" y2="1631.00" stroke="#000" stroke-width="3" stroke-linecap="butt"/>
<line x1="167.20" y1="1594.00" x2="204.00" y2="1594.00" stroke="#000" stroke-width="5.8" stroke-linecap="butt"/>
<circle cx="186.20" cy="1597.60" r="11.2" fill="#FFFB00" stroke="#000" stroke-width="2.7"/>
<circle cx="184.70" cy="1592.30" r="11.2" fill="#FFFB00" stroke="#000" stroke-width="2.7"/>
<line x1="223.20" y1="1605.60" x2="259.80" y2="1605.60" stroke="#000" stroke-width="5.8" stroke-linecap="butt"/>
<circle cx="241.10" cy="1607.30" r="11.2" fill="#FF9300" stroke="#000" stroke-width="2.7"/>
<circle cx="240.40" cy="1604.50" r="11.2" fill="#FF9300" stroke="#000" stroke-width="2.7"/>
<line x1="278.40" y1="1608.10" x2="315.00" y2="1608.10" stroke="#000" stroke-width="5.8" stroke-linecap="butt"/>
<circle cx="297.50" cy="1608.10" r="11.2" fill="#FF2600" stroke="#000" stroke-width="2.7"/>
<circle cx="295.60" cy="1608.10" r="11.2" fill="#FF2600" stroke="#000" stroke-width="2.7"/>
<line x1="393.60" y1="1333.90" x2="393.60" y2="1409.70" stroke="#000" stroke-width="2.7" stroke-linecap="butt"/>
<line x1="383.20" y1="1333.90" x2="404.00" y2="1333.90" stroke="#000" stroke-width="2.7" stroke-linecap="butt"/>
<line x1="383.20" y1="1409.70" x2="404.00" y2="1409.70" stroke="#000" stroke-width="2.7" stroke-linecap="butt"/>
<line x1="370.10" y1="1372.00" x2="405.10" y2="1372.00" stroke="#000" stroke-width="5.8" stroke-linecap="butt"/>
<circle cx="371.10" cy="1334.90" r="11.2" fill="#FFFB00" stroke="#000" stroke-width="2.7"/>
<circle cx="398.20" cy="1369.20" r="11.2" fill="#FFFB00" stroke="#000" stroke-width="2.7"/>
<circle cx="388.00" cy="1410.20" r="11.2" fill="#FFFB00" stroke="#000" stroke-width="2.7"/>
<line x1="426.00" y1="1541.60" x2="463.00" y2="1541.60" stroke="#000" stroke-width="5.8" stroke-linecap="butt"/>
<circle cx="444.30" cy="1546.80" r="11.2" fill="#FF9300" stroke="#000" stroke-width="2.7"/>
<circle cx="443.20" cy="1533.60" r="11.2" fill="#FF9300" stroke="#000" stroke-width="2.7"/>
<line x1="481.40" y1="1608.10" x2="518.40" y2="1608.10" stroke="#000" stroke-width="5.8" stroke-linecap="butt"/>
<circle cx="500.50" cy="1608.10" r="11.2" fill="#FF2600" stroke="#000" stroke-width="2.7"/>
<circle cx="498.80" cy="1608.10" r="11.2" fill="#FF2600" stroke="#000" stroke-width="2.7"/>
<line x1="852.90" y1="1255.70" x2="1006.90" y2="1255.70" stroke="#000" stroke-width="4.4" stroke-linecap="round"/>
<line x1="853.50" y1="1281.60" x2="1013.80" y2="1281.60" stroke="#000" stroke-width="1.5" stroke-linecap="butt"/>
<path d="M921.50 1273.50L921.50 1269.30M921.50 1273.50L925.49 1272.20M921.50 1273.50L923.96 1276.90M921.50 1273.50L919.03 1276.90M921.50 1273.50L917.50 1272.20M933.40 1273.50L933.40 1269.30M933.40 1273.50L937.40 1272.20M933.40 1273.50L935.87 1276.90M933.40 1273.50L930.93 1276.90M933.40 1273.50L929.40 1272.20M945.30 1273.50L945.30 1269.30M945.30 1273.50L949.30 1272.20M945.30 1273.50L947.77 1276.90M945.30 1273.50L942.84 1276.90M945.30 1273.50L941.31 1272.20" stroke="#000" stroke-width="2.2" stroke-linecap="round" fill="none"/>
<line x1="852.10" y1="1307.60" x2="933.70" y2="1307.60" stroke="#000" stroke-width="1.5" stroke-linecap="butt"/>
<path d="M891.48 1300.27L891.48 1296.40M891.48 1300.27L895.16 1299.07M891.48 1300.27L893.75 1303.40M891.48 1300.27L889.21 1303.40M891.48 1300.27L887.80 1299.07" stroke="#000" stroke-width="2.2" stroke-linecap="round" fill="none"/>
<line x1="821.40" y1="1305.20" x2="821.40" y2="1607.70" stroke="#000" stroke-width="3" stroke-linecap="butt"/>
<line x1="801.20" y1="1306.70" x2="821.40" y2="1306.70" stroke="#000" stroke-width="3" stroke-linecap="butt"/>
<line x1="801.20" y1="1381.50" x2="821.40" y2="1381.50" stroke="#000" stroke-width="3" stroke-linecap="butt"/>
<line x1="801.20" y1="1456.30" x2="821.40" y2="1456.30" stroke="#000" stroke-width="3" stroke-linecap="butt"/>
<line x1="801.20" y1="1531.00" x2="821.40" y2="1531.00" stroke="#000" stroke-width="3" stroke-linecap="butt"/>
<line x1="801.20" y1="1606.20" x2="821.40" y2="1606.20" stroke="#000" stroke-width="3" stroke-linecap="butt"/>
<line x1="801.20" y1="1606.20" x2="1046.60" y2="1606.20" stroke="#000" stroke-width="3" stroke-linecap="butt"/>
<line x1="853.30" y1="1606.20" x2="853.30" y2="1625.60" stroke="#000" stroke-width="3" stroke-linecap="butt"/>
<line x1="932.80" y1="1606.20" x2="932.80" y2="1625.60" stroke="#000" stroke-width="3" stroke-linecap="butt"/>
<line x1="1012.00" y1="1606.20" x2="1012.00" y2="1625.60" stroke="#000" stroke-width="3" stroke-linecap="butt"/>
<line x1="853.30" y1="1405.00" x2="853.30" y2="1457.10" stroke="#000" stroke-width="2.7" stroke-linecap="butt"/>
<line x1="844.10" y1="1405.00" x2="862.50" y2="1405.00" stroke="#000" stroke-width="2.7" stroke-linecap="butt"/>
<line x1="844.10" y1="1457.10" x2="862.50" y2="1457.10" stroke="#000" stroke-width="2.7" stroke-linecap="butt"/>
<line x1="837.50" y1="1428.30" x2="869.50" y2="1428.30" stroke="#000" stroke-width="5.8" stroke-linecap="butt"/>
<circle cx="853.50" cy="1400.80" r="11.2" fill="#FFFB00" stroke="#000" stroke-width="2.7"/>
<circle cx="870.60" cy="1426.50" r="11.2" fill="#FFFB00" stroke="#000" stroke-width="2.7"/>
<circle cx="845.10" cy="1458.20" r="11.2" fill="#FFFB00" stroke="#000" stroke-width="2.7"/>
<line x1="933.00" y1="1327.50" x2="933.00" y2="1390.00" stroke="#000" stroke-width="2.7" stroke-linecap="butt"/>
<line x1="924.20" y1="1327.50" x2="941.80" y2="1327.50" stroke="#000" stroke-width="2.7" stroke-linecap="butt"/>
<line x1="924.20" y1="1390.00" x2="941.80" y2="1390.00" stroke="#000" stroke-width="2.7" stroke-linecap="butt"/>
<line x1="917.10" y1="1358.30" x2="948.90" y2="1358.30" stroke="#000" stroke-width="5.8" stroke-linecap="butt"/>
<circle cx="932.80" cy="1392.70" r="11.2" fill="#FF9300" stroke="#000" stroke-width="2.7"/>
<circle cx="915.70" cy="1335.10" r="11.2" fill="#FF9300" stroke="#000" stroke-width="2.7"/>
<circle cx="941.20" cy="1345.60" r="11.2" fill="#FF9300" stroke="#000" stroke-width="2.7"/>
<line x1="997.50" y1="1599.00" x2="1026.90" y2="1599.00" stroke="#000" stroke-width="5.8" stroke-linecap="butt"/>
<circle cx="1012.30" cy="1598.50" r="11.2" fill="#FF2600" stroke="#000" stroke-width="2.7"/>
<circle cx="1011.30" cy="1598.00" r="11.2" fill="#FF2600" stroke="#000" stroke-width="2.7"/>
<text transform="translate(-1.42 32.09) scale(0.9483 1.0131)" font-size="42" font-weight="bold">a</text>
<text transform="translate(317.82 43.04) scale(1.0144 1.0538)" font-size="33" text-anchor="middle">PEG-RGD</text>
<text transform="translate(138.02 105.05) scale(1.0559 1.0108)" font-size="33" text-anchor="end">50</text>
<text transform="translate(137.99 164.99) scale(1.0280 1.0280)" font-size="33" text-anchor="end">40</text>
<text transform="translate(137.99 225.24) scale(1.0280 1.0280)" font-size="33" text-anchor="end">30</text>
<text transform="translate(137.95 284.80) scale(1.0022 1.0022)" font-size="33" text-anchor="end">20</text>
<text transform="translate(137.98 344.70) scale(1.0243 1.0108)" font-size="33" text-anchor="end">10</text>
<text transform="translate(138.03 405.59) scale(1.0604 1.0280)" font-size="33" text-anchor="end">0</text>
<text transform="translate(231.77 435.92) rotate(-45) scale(1.0129 1.0129)" font-size="33" text-anchor="end">0.3 kPa</text>
<text transform="translate(296.30 435.86) rotate(-45) scale(1.0110 1.0110)" font-size="33" text-anchor="end">0.7 kPa</text>
<text transform="translate(360.21 434.76) rotate(-45) scale(0.9858 0.9858)" font-size="33" text-anchor="end">1.3 kPa</text>
<text transform="translate(424.88 434.86) rotate(-45) scale(0.9868 0.9868)" font-size="33" text-anchor="end">1.7 kPa</text>
<text transform="translate(64.06 234.62) rotate(-90) scale(1.0134 1.0277)" font-size="33" text-anchor="middle">Organoid formation (%)</text>
<text transform="translate(522.30 31.11) scale(1.0542 0.9871)" font-size="42" font-weight="bold">b</text>
<text transform="translate(716.42 57.85) scale(1.0068 1.0207)" font-size="33" text-anchor="middle">0.3 kPa</text>
<text transform="translate(1126.00 57.65) scale(0.9982 1.0207)" font-size="33" text-anchor="middle">1.3 kPa</text>
<text transform="translate(-0.88 607.40) scale(0.9903 1.0087)" font-size="42" font-weight="bold">c</text>
<text transform="translate(138.12 685.45) scale(1.0185 1.0242)" font-size="33" text-anchor="end">4</text>
<text transform="translate(138.57 759.30) scale(0.9764 0.9764)" font-size="33" text-anchor="end">3</text>
<text transform="translate(138.80 834.50) scale(0.9696 0.9696)" font-size="33" text-anchor="end">2</text>
<text transform="translate(138.81 908.60) scale(0.9803 0.9803)" font-size="33" text-anchor="end">1</text>
<text transform="translate(138.35 984.30) scale(1.0022 1.0022)" font-size="33" text-anchor="end">0</text>
<text transform="translate(249.86 1028.20) rotate(-45) scale(1.0306 1.0306)" font-size="33" text-anchor="end" font-style="italic">Ctgf</text>
<text transform="translate(393.11 1020.73) rotate(-45) scale(1.0044 1.0044)" font-size="33" text-anchor="end" font-style="italic">Cyr61</text>
<text transform="translate(91.64 824.74) rotate(-90) scale(1.0193 1.0351)" font-size="33" text-anchor="middle">Relative mRNA levels</text>
<text transform="translate(531.23 702.59) scale(1.0178 1.0266)" font-size="28.5">0.3 kPa</text>
<text transform="translate(532.64 757.19) scale(1.0032 1.0266)" font-size="28.5">1.3 kPa</text>
<text transform="translate(783.90 606.06) scale(1.0287 0.9903)" font-size="42" font-weight="bold">d</text>
<text transform="translate(1051.89 619.73) scale(1.0143 1.0624)" font-size="33" text-anchor="middle">INTEGRINS</text>
<text transform="translate(910.08 755.20) scale(1.0238 1.0374)" font-size="33" text-anchor="middle" fill="#FF0000">PF</text>
<text transform="translate(1054.56 755.20) scale(1.0549 1.0374)" font-size="33" text-anchor="middle">FAK</text>
<text transform="translate(1191.48 718.95) scale(1.0372 1.0194)" font-size="33" text-anchor="middle" fill="#FF0000">DAS.</text>
<text transform="translate(1189.99 830.74) scale(1.0129 1.0710)" font-size="33" text-anchor="middle">SFK</text>
<text transform="translate(833.78 893.80) scale(1.0496 0.9935)" font-size="33" text-anchor="middle" fill="#FF0000">BLEB.</text>
<text transform="translate(1048.13 895.39) scale(1.0080 1.0244)" font-size="33" text-anchor="middle">Actomyosin</text>
<text transform="translate(974.18 1029.85) scale(1.0131 1.0769)" font-size="33" text-anchor="middle" fill="#FF0000">VP</text>
<text transform="translate(1110.68 1029.85) scale(1.0508 1.0769)" font-size="33" text-anchor="middle">YAP</text>
<text transform="translate(-1.82 1169.09) scale(1.0421 1.0131)" font-size="42" font-weight="bold">e</text>
<text transform="translate(347.92 1182.44) scale(1.0157 1.0495)" font-size="33" text-anchor="middle">PEG-RGD</text>
<text transform="translate(247.27 1235.01) scale(1.0077 1.0332)" font-size="33" text-anchor="middle">0.3 kPa</text>
<text transform="translate(448.13 1234.91) scale(0.9977 1.0291)" font-size="33" text-anchor="middle">1.3 kPa</text>
<text transform="translate(113.51 1322.94) scale(1.0517 1.0409)" font-size="33" text-anchor="end">600</text>
<text transform="translate(113.49 1422.54) scale(1.0283 1.0323)" font-size="33" text-anchor="end">400</text>
<text transform="translate(113.49 1521.94) scale(1.0323 1.0323)" font-size="33" text-anchor="end">200</text>
<text transform="translate(113.46 1622.44) scale(1.0035 1.0581)" font-size="33" text-anchor="end">0</text>
<text transform="translate(198.90 1657.81) rotate(-45) scale(1.0190 1.0190)" font-size="33" text-anchor="end">DMSO</text>
<text transform="translate(259.56 1660.31) rotate(-45) scale(0.9947 0.9947)" font-size="33" text-anchor="end">PF</text>
<text transform="translate(317.30 1659.44) rotate(-45) scale(1.0217 1.0217)" font-size="33" text-anchor="end">VP</text>
<text transform="translate(401.97 1657.67) rotate(-45) scale(1.0193 1.0193)" font-size="33" text-anchor="end">DMSO</text>
<text transform="translate(462.25 1666.28) rotate(-45) scale(0.9912 0.9912)" font-size="33" text-anchor="end">PF</text>
<text transform="translate(516.92 1659.40) rotate(-45) scale(1.0278 1.0278)" font-size="33" text-anchor="end">VP</text>
<text transform="translate(28.24 1469.79) rotate(-90) scale(1.0173 1.0581)" font-size="33" text-anchor="middle">CFU</text>
<text transform="translate(669.90 1166.95) scale(0.9292 0.9804)" font-size="42" font-weight="bold">f</text>
<text transform="translate(930.66 1188.89) scale(1.0204 1.0452)" font-size="33" text-anchor="middle">PEG-RGD</text>
<text transform="translate(930.38 1237.35) scale(0.9968 1.0021)" font-size="33" text-anchor="middle">1.3 kPa</text>
<text transform="translate(784.00 1320.20) scale(1.0393 1.0151)" font-size="33" text-anchor="end">800</text>
<text transform="translate(783.94 1394.45) scale(0.9892 0.9892)" font-size="33" text-anchor="end">600</text>
<text transform="translate(783.97 1469.80) scale(1.0151 1.0151)" font-size="33" text-anchor="end">400</text>
<text transform="translate(783.97 1544.55) scale(1.0151 1.0151)" font-size="33" text-anchor="end">200</text>
<text transform="translate(783.96 1618.70) scale(1.0035 0.9892)" font-size="33" text-anchor="end">0</text>
<text transform="translate(872.70 1652.33) rotate(-45) scale(1.0298 1.0298)" font-size="33" text-anchor="end">DMSO</text>
<text transform="translate(959.21 1646.65) rotate(-45) scale(1.0305 1.0305)" font-size="33" text-anchor="end">BLEB.</text>
<text transform="translate(1035.79 1648.22) rotate(-45) scale(1.0302 1.0302)" font-size="33" text-anchor="end">DAS.</text>
<text transform="translate(699.13 1460.69) rotate(-90) scale(1.0236 1.0753)" font-size="33" text-anchor="middle">CFU</text>
</svg>
</body></html>
